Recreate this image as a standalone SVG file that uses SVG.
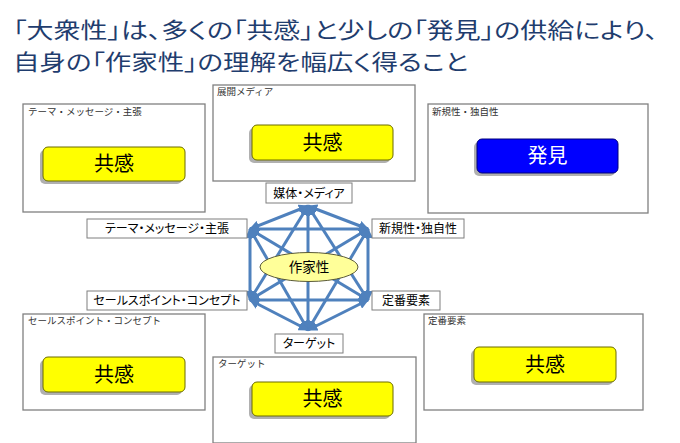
<svg xmlns="http://www.w3.org/2000/svg" width="680" height="443" viewBox="0 0 680 443">
<style>
text{font-family:"Noto Sans CJK JP","Noto Sans",sans-serif;}
.title{font-size:22px;fill:#1f3d6e;font-feature-settings:"palt";}
.frame{fill:#fff;stroke:#808080;stroke-width:1.3;}
.cap{font-size:9.5px;fill:#333;}
.btn{fill:#ffff00;stroke:#6b6b00;stroke-width:1;}
.btnB{fill:#0000ff;stroke:#00007a;stroke-width:1;}
.shadow{fill:#b0b0b0;}
.bt{font-size:20px;fill:#000;text-anchor:middle;}
.btw{font-size:20px;fill:#fff;text-anchor:middle;}
.lab{fill:#fff;stroke:#7f7f7f;stroke-width:1;}
.lt{font-size:12px;fill:#000;text-anchor:middle;font-feature-settings:"palt";}
.edge{stroke:#4f81bd;stroke-width:3;fill:none;marker-start:url(#ah);marker-end:url(#ah);}
</style>
<defs>
<marker id="ah" viewBox="0 0 10 10" refX="9" refY="5" markerWidth="3.4" markerHeight="3.4" orient="auto-start-reverse">
<path d="M0,0 L10,5 L0,10 z" fill="#4f81bd"/>
</marker>
</defs>
<rect width="680" height="443" fill="#fff"/>
<text class="title" x="13" y="38" textLength="645" lengthAdjust="spacingAndGlyphs">「大衆性」は、多くの「共感」と少しの「発見」の供給により、</text>
<text class="title" x="13" y="70" textLength="455" lengthAdjust="spacingAndGlyphs">自身の「作家性」の理解を幅広く得ること</text>

<g id="box-theme">
<rect class="frame" x="23" y="104" width="182" height="108"/>
<text class="cap" x="28" y="115">テーマ・メッセージ・主張</text>
<rect class="shadow" x="40" y="150" width="142" height="34" rx="5"/>
<rect class="btn" x="43" y="147" width="142" height="34" rx="5"/>
<text class="bt" x="114" y="171">共感</text>
</g>
<g id="box-media">
<rect class="frame" x="213" y="85" width="202" height="96"/>
<text class="cap" x="217" y="95">展開メディア</text>
<rect class="shadow" x="249" y="128" width="141" height="35" rx="5"/>
<rect class="btn" x="252" y="125" width="141" height="35" rx="5"/>
<text class="bt" x="322.5" y="150">共感</text>
</g>
<g id="box-novelty">
<rect class="frame" x="428" y="104" width="220" height="109"/>
<text class="cap" x="432" y="115">新規性・独自性</text>
<rect class="shadow" x="474" y="142" width="141" height="34" rx="5"/>
<rect class="btnB" x="477" y="139" width="141" height="34" rx="5"/>
<text class="btw" x="547.5" y="163">発見</text>
</g>
<g id="box-selling">
<rect class="frame" x="23" y="314" width="182" height="96"/>
<text class="cap" x="28" y="324">セールスポイント・コンセプト</text>
<rect class="shadow" x="40" y="360" width="142" height="35" rx="5"/>
<rect class="btn" x="43" y="357" width="142" height="35" rx="5"/>
<text class="bt" x="114" y="382">共感</text>
</g>
<g id="box-target">
<rect class="frame" x="213" y="357" width="203" height="86"/>
<text class="cap" x="218" y="367">ターゲット</text>
<rect class="shadow" x="249" y="385" width="141" height="34" rx="5"/>
<rect class="btn" x="252" y="382" width="141" height="34" rx="5"/>
<text class="bt" x="322.5" y="406">共感</text>
</g>
<g id="box-standard">
<rect class="frame" x="424" y="314" width="219" height="96"/>
<text class="cap" x="428" y="324">定番要素</text>
<rect class="shadow" x="471" y="350" width="142" height="35" rx="5"/>
<rect class="btn" x="474" y="347" width="142" height="35" rx="5"/>
<text class="bt" x="545" y="372">共感</text>
</g>

<g id="connectors">
<line class="edge" x1="308" y1="206" x2="250" y2="229"/>
<line class="edge" x1="308" y1="206" x2="368" y2="229"/>
<line class="edge" x1="308" y1="206" x2="250" y2="300"/>
<line class="edge" x1="308" y1="206" x2="368" y2="300"/>
<line class="edge" x1="308" y1="206" x2="308" y2="330"/>
<line class="edge" x1="250" y1="229" x2="368" y2="229"/>
<line class="edge" x1="250" y1="229" x2="250" y2="300"/>
<line class="edge" x1="250" y1="229" x2="368" y2="300"/>
<line class="edge" x1="250" y1="229" x2="308" y2="330"/>
<line class="edge" x1="368" y1="229" x2="250" y2="300"/>
<line class="edge" x1="368" y1="229" x2="368" y2="300"/>
<line class="edge" x1="368" y1="229" x2="308" y2="330"/>
<line class="edge" x1="250" y1="300" x2="368" y2="300"/>
<line class="edge" x1="250" y1="300" x2="308" y2="330"/>
<line class="edge" x1="368" y1="300" x2="308" y2="330"/>
</g>

<g id="node-author">
<ellipse cx="309" cy="267" rx="49" ry="14.5" fill="#ffff99" stroke="#5a5a3a" stroke-width="1"/>
<text x="309" y="272" font-size="13.5" text-anchor="middle" fill="#000">作家性</text>
</g>
<g id="lab-media">
<rect class="lab" x="266" y="183" width="86" height="20"/>
<text class="lt" x="309" y="197.5">媒体・メディア</text>
</g>
<g id="lab-theme">
<rect class="lab" x="87" y="219" width="160" height="19"/>
<text class="lt" x="167" y="233">テーマ・メッセージ・主張</text>
</g>
<g id="lab-novelty">
<rect class="lab" x="372" y="219" width="92" height="19"/>
<text class="lt" x="418" y="233">新規性・独自性</text>
</g>
<g id="lab-selling">
<rect class="lab" x="87" y="291" width="160" height="19"/>
<text class="lt" x="167" y="305">セールスポイント・コンセプト</text>
</g>
<g id="lab-standard">
<rect class="lab" x="372" y="291" width="68" height="19"/>
<text class="lt" x="406" y="305">定番要素</text>
</g>
<g id="lab-target">
<rect class="lab" x="275" y="334" width="68" height="19"/>
<text class="lt" x="309" y="348">ターゲット</text>
</g>
</svg>
